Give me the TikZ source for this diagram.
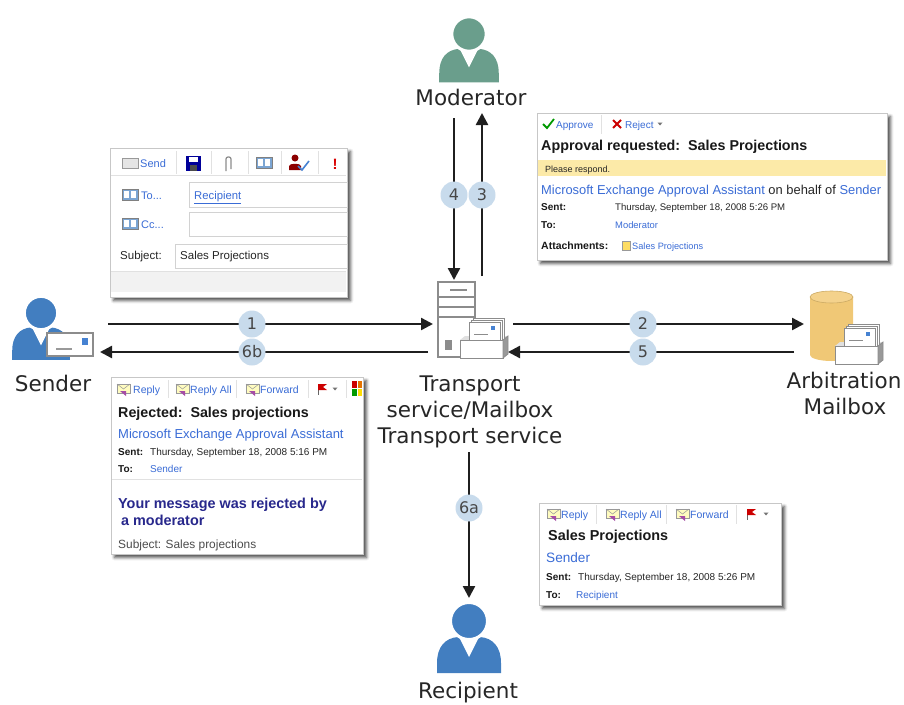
\documentclass[tikz,border=0pt]{standalone}
\usepackage{fontspec}
\setmainfont{DejaVu Sans}
\newfontfamily\uif{Liberation Sans}
\usetikzlibrary{arrows.meta,shadows.blur}

\definecolor{personblue}{RGB}{66,126,192}
\definecolor{modgreen}{RGB}{106,158,140}
\definecolor{stepfill}{RGB}{200,219,236}
\definecolor{linkblue}{RGB}{58,108,214}
\definecolor{cylfill}{RGB}{240,200,118}
\definecolor{cyltop}{RGB}{244,210,140}
\definecolor{bandyellow}{RGB}{252,234,168}
\definecolor{msgblue}{RGB}{40,40,140}
\definecolor{stampblue}{RGB}{70,130,210}
\definecolor{sepgray}{RGB}{225,225,225}
\definecolor{boxgray}{RGB}{210,210,210}

\tikzset{
  person/.pic={
    \path[pic actions] (-32,52) -- (-32,42) .. controls (-32,26) and (-24,17) .. (-11,16)
      -- (11,16) .. controls (24,17) and (32,26) .. (32,42) -- (32,52) -- cycle;
    \fill[white] (-11,14) -- (11,14) -- (0,36) -- cycle;
    \path[pic actions, draw=white, line width=3pt] (0,0) circle (18.5);
  },
  tray/.pic={
    \fill[black!12] (0,0) -- (5,-4) -- (48,-4) -- (43,0) -- cycle;
    \filldraw[fill=white, draw=black!45, line width=0.8pt] (13,-22) rectangle (44,0);
    \filldraw[fill=white, draw=black!45, line width=0.8pt] (11,-20) rectangle (42,0);
    \filldraw[fill=white, draw=black!45, line width=0.8pt] (9,-18) rectangle (40,0);
    \draw[black!45, line width=1pt] (14,-6) -- (28,-6);
    \fill[stampblue] (31,-14) rectangle (35,-10);
    \filldraw[fill=white, draw=black!45, line width=1pt] (0,0) rectangle (43,18);
    \filldraw[fill=black!40, draw=black!45, line width=0.8pt] (43,0) -- (48,-4) -- (48,14) -- (43,18) -- cycle;
  },
  mailicon/.pic={
    \filldraw[fill=yellow!25!white, draw=black!40, line width=0.6pt] (0,-5) rectangle (13,4);
    \draw[black!40, line width=0.5pt] (0,-5) -- (6.5,0) -- (13,-5);
    \fill[violet!70] (3,2) -- (9,2) -- (9,7) -- cycle;
  },
  bookicon/.pic={
    \filldraw[fill=personblue!70, draw=black!50, line width=0.5pt] (0,-6) rectangle (16,5);
    \fill[white] (2,-4) rectangle (7,3);
    \fill[white] (9,-4) rectangle (14,3);
  },
  flagicon/.pic={
    \draw[black!60, line width=0.8pt] (0,-5) -- (0,6);
    \fill[red!80!black] (0,-5) -- (9,-5) -- (5,-2) -- (9,1) -- (0,1) -- cycle;
  },
  droptri/.pic={
    \fill[black!55] (-2.5,-1.5) -- (2.5,-1.5) -- (0,1.5) -- cycle;
  }
}

\begin{document}
\begin{tikzpicture}[x=1pt,y=-1pt,
  flow/.style={draw=black!88, line width=2.4pt, -{Triangle[length=12pt,width=12pt]}},
  stepnum/.style={circle, fill=stepfill, minimum size=27pt, inner sep=0pt, text=black!72,
    font=\fontsize{16}{16}\selectfont},
  biglabel/.style={anchor=base, inner sep=0pt, text=black!85, font=\fontsize{21.5}{26}\selectfont},
  win/.style={draw=black!22, fill=white, line width=0.6pt,
    blur shadow={shadow xshift=3.5pt, shadow yshift=-3.5pt, shadow blur radius=3pt, shadow opacity=70}},
  ui/.style={anchor=base west, inner sep=0pt, text=black!85, font=\uif\fontsize{#1}{#1}\selectfont},
  uib/.style={anchor=base west, inner sep=0pt, text=black!90, font=\uif\bfseries\fontsize{#1}{#1}\selectfont},
  link/.style={ui=#1, text=linkblue},
  sep/.style={draw=sepgray, line width=0.8pt},
  field/.style={draw=boxgray, fill=white, line width=0.6pt}
]
\useasboundingbox (0,0) rectangle (904,704);

% ---------------- compose window ----------------
\path[win] (110,148) rectangle (347,297);
\fill[black!5] (111,271) rectangle (346,292);
\draw[sep] (111,271) -- (346,271);
\draw[sep] (111,175) -- (346,175);
\filldraw[fill=black!10, draw=black!40, line width=0.6pt] (122,158) rectangle (138,168);
\node[link=11] (csend) at (140,167) {Send};
\foreach \x in {176,211,248,281,318} \draw[sep] (\x,151) -- (\x,174);
% save
\fill[blue!60!black] (186,156) rectangle (201,171);
\fill[white] (189,157) rectangle (198,162);
\fill[black!70] (190,165) rectangle (197,171);
% attach
\draw[black!45, line width=1.2pt, rounded corners=2pt] (226,171) -- (226,157) -- (231,157) -- (231,169);
% book
\pic at (256,163) {bookicon};
% check names
\fill[red!55!black] (295,158) circle (3.5);
\fill[red!55!black] (289,170) -- (289,166) .. controls (289,163) and (301,163) .. (301,166) -- (301,170) -- cycle;
\draw[stampblue, line width=1.6pt] (298,166) -- (302,170) -- (309,161);
% importance
\node[anchor=base, inner sep=0pt, text=red!85!black, font=\uif\bfseries\fontsize{15}{15}\selectfont] (cimp) at (335,169) {!};
% fields
\pic at (122,195) {bookicon};
\node[link=11] (cto) at (141,199) {To...};
\path[field] (189,182) rectangle (347,207);
\node[link=11.3] (crcpt) at (194,199) {\underline{Recipient}};
\pic at (122,224) {bookicon};
\node[link=11] (ccc) at (141,228) {Cc...};
\path[field] (189,212) rectangle (347,236);
\node[ui=11.5] (csubjl) at (120,259) {Subject:};
\path[field] (175,244) rectangle (347,268);
\node[ui=11.5] (csubj) at (180,259) {Sales Projections};

% ---------------- approval window ----------------
\path[win] (537,113) rectangle (887,260);
\draw[green!60!black, line width=1.8pt] (543,124) -- (547,128) -- (554,119);
\node[link=10] (aok) at (556,128) {Approve};
\draw[sep] (601,115) -- (601,134);
\draw[red!80!black, line width=1.8pt] (613,120) -- (621,128) (613,128) -- (621,120);
\node[link=10] (arej) at (625,128) {Reject};
\pic at (660,124) {droptri};
\node[uib=14.3] (atitle) at (541,150) {Approval requested:\ \ Sales Projections};
\fill[bandyellow] (538,160) rectangle (886,176);
\node[ui=9] (aplease) at (545,172) {Please respond.};
\node[ui=12.9] (afrom) at (541,194) {{\color{linkblue}Microsoft Exchange Approval Assistant} on behalf of {\color{linkblue}Sender}};
\node[uib=10] (asentl) at (541,210.5) {Sent:};
\node[ui=9.6] (asent) at (615,210.5) {Thursday, September 18, 2008 5:26 PM};
\node[uib=10] (atol) at (541,228.5) {To:};
\node[link=9.4] (ato) at (615,228.5) {Moderator};
\node[uib=10.5] (aattl) at (541,249.5) {Attachments:};
\filldraw[fill=yellow!60!orange!60, draw=black!40, line width=0.5pt] (622,241) rectangle (630,250);
\node[link=9.2] (aatt) at (632,249.5) {Sales Projections};

% ---------------- rejection notice ----------------
\path[win] (111,377) rectangle (363,554);
\pic at (117,389) {mailicon};
\node[link=10.5] (rrep) at (133,393) {Reply};
\pic at (176,389) {mailicon};
\node[link=10.5] (rrepall) at (190,393) {Reply All};
\pic at (246,389) {mailicon};
\node[link=10.5] (rfwd) at (260,393) {Forward};
\foreach \x in {168,236,308,346} \draw[sep] (\x,380) -- (\x,398);
\pic at (318,389) {flagicon};
\pic at (335,389) {droptri};
\fill[red!80!black] (352,381) rectangle (357,388);
\fill[orange!90!black] (358,381) rectangle (362,388);
\fill[green!60!black] (352,389) rectangle (357,396);
\fill[yellow!80!orange] (358,389) rectangle (362,396);
\node[uib=14.3] (rtitle) at (118,417) {Rejected:\ \ Sales projections};
\node[link=13] (rfrom) at (118,438) {Microsoft Exchange Approval Assistant};
\node[uib=10] (rsentl) at (118,455.5) {Sent:};
\node[ui=10] (rsent) at (150,455.5) {Thursday, September 18, 2008 5:16 PM};
\node[uib=10] (rtol) at (118,472.5) {To:};
\node[link=10] (rto) at (150,472.5) {Sender};
\draw[sep] (112,479) -- (362,479);
\node[uib=14.4, text=msgblue] (rmsg1) at (118,508) {Your message was rejected by};
\node[uib=14.4, text=msgblue] (rmsg2) at (121,525) {a moderator};
\node[ui=11.9, text=black!70] (rsubj) at (118,548) {Subject: Sales projections};

% ---------------- delivered message ----------------
\path[win] (539,503) rectangle (781,605);
\pic at (547,514) {mailicon};
\node[link=10.5] (drep) at (561,518) {Reply};
\pic at (606,514) {mailicon};
\node[link=10.5] (drepall) at (620,518) {Reply All};
\pic at (676,514) {mailicon};
\node[link=10.5] (dfwd) at (690,518) {Forward};
\foreach \x in {596,666,736} \draw[sep] (\x,505) -- (\x,524);
\pic at (747,514) {flagicon};
\pic at (766,514) {droptri};
\node[uib=14.4] (dtitle) at (548,540) {Sales Projections};
\node[link=13.6] (dfrom) at (546,562) {Sender};
\node[uib=10] (dsentl) at (546,580.5) {Sent:};
\node[ui=10] (dsent) at (578,580.5) {Thursday, September 18, 2008 5:26 PM};
\node[uib=10] (dtol) at (546,598.5) {To:};
\node[link=10] (dto) at (576,598.5) {Recipient};

% ---------------- people ----------------
\pic[fill=modgreen, scale=0.93] (moderator) at (469,34) {person};
\node[biglabel] (modlbl) at (471,105) {Moderator};

\pic[fill=personblue, scale=0.9] (sender) at (41,313) {person};
\filldraw[fill=white, draw=black!45, line width=1.4pt] (47,333) rectangle (93,356);
\fill[stampblue] (82,338) rectangle (88,345);
\draw[black!40, line width=1.6pt] (56,349) -- (72,349);
\node[biglabel] (sndlbl) at (53,391) {Sender};

\pic[fill=personblue] (recipient) at (469,621) {person};
\node[biglabel] (rcplbl) at (468,698) {Recipient};

% ---------------- transport server ----------------
\filldraw[fill=white, draw=black!45, line width=1.4pt] (438,282) rectangle (475,357);
\draw[black!45, line width=1.2pt] (438,297) -- (475,297) (438,307) -- (475,307) (438,317) -- (475,317);
\draw[black!45, line width=2pt] (450,290) -- (467,290);
\fill[black!45] (445,340) rectangle (452,350);
\pic (srvtray) at (460,340) {tray};
\node[biglabel] (trl1) at (470,391) {Transport};
\node[biglabel] (trl2) at (470,417) {service/Mailbox};
\node[biglabel] (trl3) at (470,443) {Transport service};

% ---------------- arbitration mailbox ----------------
\fill[cylfill] (810,297) -- (810,355) arc[start angle=180, end angle=360, x radius=21.5, y radius=-6] -- (853,297) -- cycle;
\filldraw[fill=cyltop, draw=cylfill!85!black, line width=0.6pt] (831.5,297) ellipse[x radius=21.5, y radius=6];
\pic (arbtray) at (835,346) {tray};
\node[biglabel] (arb1) at (844,388) {Arbitration};
\node[biglabel] (arb2) at (845,414) {Mailbox};

% ---------------- message flow ----------------
\coordinate (p1s) at (108,324);  \coordinate (p1e) at (433,324);
\coordinate (p6bs) at (428,352); \coordinate (p6be) at (100,352);
\coordinate (p2s) at (513,324);  \coordinate (p2e) at (804,324);
\coordinate (p5s) at (794,352);  \coordinate (p5e) at (508,352);
\coordinate (p4s) at (454,118);  \coordinate (p4e) at (454,280);
\coordinate (p3s) at (482,276);  \coordinate (p3e) at (482,113);
\coordinate (p6as) at (469,452); \coordinate (p6ae) at (469,598);

\draw[flow] (p1s) -- (p1e);
\draw[flow] (p6bs) -- (p6be);
\draw[flow] (p2s) -- (p2e);
\draw[flow] (p5s) -- (p5e);
\draw[flow] (p4s) -- (p4e);
\draw[flow] (p3s) -- (p3e);
\draw[flow] (p6as) -- (p6ae);

\node[stepnum] (n1) at (252,324) {1};
\node[stepnum] (n6b) at (252,352) {6b};
\node[stepnum] (n2) at (643,324) {2};
\node[stepnum] (n5) at (643,352) {5};
\node[stepnum] (n4) at (454,195) {4};
\node[stepnum] (n3) at (482,195) {3};
\node[stepnum] (n6a) at (469,508) {6a};
\end{tikzpicture}
\end{document}
